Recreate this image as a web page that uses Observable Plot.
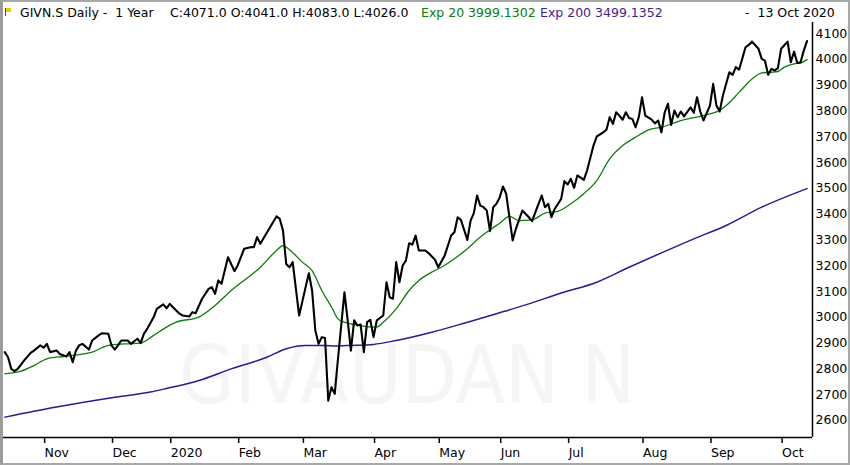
<!DOCTYPE html>
<html><head><meta charset="utf-8">
<script src="https://cdn.jsdelivr.net/npm/d3@7"></script>
<script src="https://cdn.jsdelivr.net/npm/@observablehq/plot@0.6"></script>
<style>
html,body{margin:0;padding:0;background:#fff;}
#wrap{position:relative;width:850px;height:465px;overflow:hidden;background:#fff;font-family:"DejaVu Sans",sans-serif;}
#border{position:absolute;left:0;top:0;width:850px;height:465px;box-sizing:border-box;border:2px solid #a8a8a8;border-left:3px solid #9c9c9c;pointer-events:none;z-index:5}
#header{position:absolute;top:5px;left:0;width:850px;height:16px;font-size:12.5px;line-height:16px;color:#000;white-space:pre;}
#header span{position:absolute;top:0}
#chart{position:absolute;left:0;top:20px;}
</style></head>
<body>
<div id="wrap">
  <div id="header"></div>
  <div id="chart"></div>
  <div id="border"></div>
</div>
<script>
// ---- data (x = trading day since 14 Oct 2019) ----
const closeSeries = [[2,2865],[3,2845],[4,2800],[5,2791],[6,2800],[8,2833],[10,2862],[11,2871],[13,2891],[14,2882],[15,2897],[16,2865],[18,2871],[19,2858],[21,2848],[22,2865],[23,2826],[24,2871],[25,2891],[26,2897],[28,2875],[29,2910],[31,2930],[32,2938],[34,2936],[35,2891],[36,2875],[37,2891],[38,2910],[40,2910],[41,2897],[43,2917],[44,2900],[45,2936],[46,2955],[48,3000],[49,3033],[51,3050],[52,3035],[53,3052],[54,3039],[56,3014],[57,3007],[59,3003],[60,3020],[61,3016],[63,3072],[65,3110],[66,3117],[67,3091],[68,3143],[69,3130],[71,3233],[73,3179],[74,3201],[76,3266],[78,3272],[79,3272],[80,3311],[81,3285],[84,3349],[86,3391],[87,3382],[88,3336],[89,3207],[90,3194],[91,3214],[93,3007],[95,3117],[96,3171],[97,3104],[98,2949],[99,2897],[100,2923],[101,2920],[102,2677],[103,2729],[104,2703],[105,2839],[107,3097],[108,2988],[109,2871],[110,2988],[111,2968],[112,2972],[113,2865],[114,2981],[115,2990],[116,2923],[117,2988],[119,3007],[120,3136],[121,3078],[122,3072],[123,3214],[124,3136],[125,3201],[126,3220],[127,3287],[128,3282],[129,3317],[130,3259],[132,3259],[133,3249],[135,3223],[136,3194],[138,3240],[140,3317],[141,3330],[142,3388],[143,3378],[145,3300],[146,3375],[147,3404],[148,3472],[149,3433],[150,3427],[151,3414],[152,3334],[153,3427],[154,3440],[155,3465],[156,3507],[157,3479],[159,3298],[160,3343],[162,3414],[164,3388],[165,3373],[167,3440],[168,3472],[169,3427],[170,3440],[171,3388],[172,3420],[174,3459],[175,3528],[176,3515],[177,3537],[178,3502],[179,3550],[181,3533],[182,3569],[184,3666],[185,3701],[187,3717],[188,3727],[189,3776],[190,3750],[191,3795],[192,3782],[193,3766],[194,3795],[195,3773],[196,3769],[197,3737],[198,3776],[199,3853],[200,3782],[202,3766],[203,3752],[204,3763],[205,3717],[206,3794],[207,3828],[208,3746],[209,3802],[210,3776],[211,3798],[212,3779],[214,3814],[215,3793],[216,3853],[217,3798],[218,3763],[220,3821],[221,3905],[222,3821],[223,3798],[224,3860],[226,3950],[227,3940],[228,3970],[229,3960],[231,4047],[232,4056],[233,4069],[235,4041],[236,4002],[237,3995],[238,3940],[239,3963],[240,3957],[241,3966],[242,4041],[244,4069],[245,3989],[246,4030],[247,3986],[248,3989],[249,4034],[250,4071]];

const exp20Series = [[2,2781],[7,2791],[11,2813],[15,2839],[20,2848],[23,2852],[29,2865],[34,2891],[39,2897],[44,2900],[48,2930],[52,2962],[55,2981],[62,3001],[67,3046],[72,3104],[81,3194],[86,3259],[88,3278],[90,3262],[94,3214],[97,3181],[100,3104],[103,3040],[105,2994],[107,2981],[110,2972],[114,2964],[117,2962],[119,2981],[123,3033],[127,3104],[130,3143],[134,3175],[137,3194],[141,3227],[145,3266],[149,3311],[152,3339],[155,3365],[158,3391],[161,3375],[165,3378],[169,3404],[173,3411],[177,3440],[181,3479],[185,3530],[189,3614],[193,3666],[197,3698],[201,3727],[205,3737],[211,3763],[217,3779],[220,3789],[223,3802],[225,3821],[229,3872],[233,3924],[236,3948],[239,3950],[241,3953],[243,3970],[246,3983],[248,3986],[250,3999]];

const exp200Series = [[2,2613],[18,2652],[36,2690],[47,2710],[52,2724],[62,2755],[72,2800],[83,2845],[89,2878],[95,2891],[101,2891],[104,2889],[109,2891],[116,2895],[123,2910],[134,2942],[144,2977],[154,3014],[164,3052],[174,3094],[185,3136],[195,3194],[205,3250],[215,3304],[225,3356],[236,3427],[250,3499]];

const monthDays = [14,35,53,74,94,116,136,155,176,199,220,242];
const monthLabels = ["Nov","Dec","2020","Feb","Mar","Apr","May","Jun","Jul","Aug","Sep","Oct"];
const yTicks = [2600,2700,2800,2900,3000,3100,3200,3300,3400,3500,3600,3700,3800,3900,4000,4100];

const headerParts = [
  {text: "GIVN.S Daily -  1 Year", left: 20, color: "#000"},
  {text: "C:4071.0 O:4041.0 H:4083.0 L:4026.0", left: 170, color: "#000"},
  {text: "Exp 20 3999.1302", left: 421, color: "#0a7d0a"},
  {text: "Exp 200 3499.1352", left: 540, color: "#3b1f8f"},
  {text: "-  13 Oct 2020", left: 745, color: "#000"}
];
const watermark = "GIVAUDAN N";

// ---- header ----
const header = document.getElementById("header");
header.insertAdjacentHTML("beforeend",
  '<span style="left:5px;top:3px;width:1px;height:8px;background:#444"></span>' +
  '<span style="left:6px;top:3px;width:5px;height:4px;background:#e6cf00"></span>');
for (const p of headerParts) {
  const s = document.createElement("span");
  s.textContent = p.text;
  s.style.left = p.left + "px";
  s.style.color = p.color;
  header.appendChild(s);
}

// ---- chart ----
const labelMap = new Map(monthDays.map((d, i) => [d, monthLabels[i]]));
const xDomain = [1.6, 251.7];
const yDomain = [2534, 4143];

const chart = Plot.plot({
  width: 850,
  height: 445,
  marginLeft: 3,
  marginRight: 38,
  marginTop: 2,
  marginBottom: 28,
  style: {fontFamily: "DejaVu Sans", fontSize: "12.5px", background: "white", color: "#000"},
  x: {domain: xDomain},
  y: {domain: yDomain},
  marks: [
    Plot.text([watermark], {frameAnchor: "middle", text: d => d, dx: -1, dy: 147, fontSize: 80, fontFamily: "DejaVu Sans Condensed", fill: "#f5f5f5"}),
    Plot.line(exp200Series, {x: d => d[0], y: d => d[1], stroke: "#35168f", strokeWidth: 1.5, curve: "monotone-x"}),
    Plot.line(exp20Series, {x: d => d[0], y: d => d[1], stroke: "#0b7d0b", strokeWidth: 1.3, curve: "monotone-x"}),
    Plot.line(closeSeries, {x: d => d[0], y: d => d[1], stroke: "#000", strokeWidth: 2.1}),
    Plot.ruleX([xDomain[1]], {stroke: "#000", strokeWidth: 1.5}),
    Plot.ruleY([yDomain[0]], {stroke: "#000", strokeWidth: 1.5}),
    Plot.axisY({anchor: "right", ticks: yTicks, tickSize: 0, tickPadding: 3, tickFormat: d => String(d), label: null, fontSize: 12.5}),
    Plot.axisX({ticks: monthDays, tickSize: 6, tickPadding: 5, strokeWidth: 1.5, tickFormat: d => labelMap.get(d), textAnchor: "start", dx: 1, label: null, fontSize: 12.5})
  ]
});
document.getElementById("chart").appendChild(chart);
</script>
</body></html>
